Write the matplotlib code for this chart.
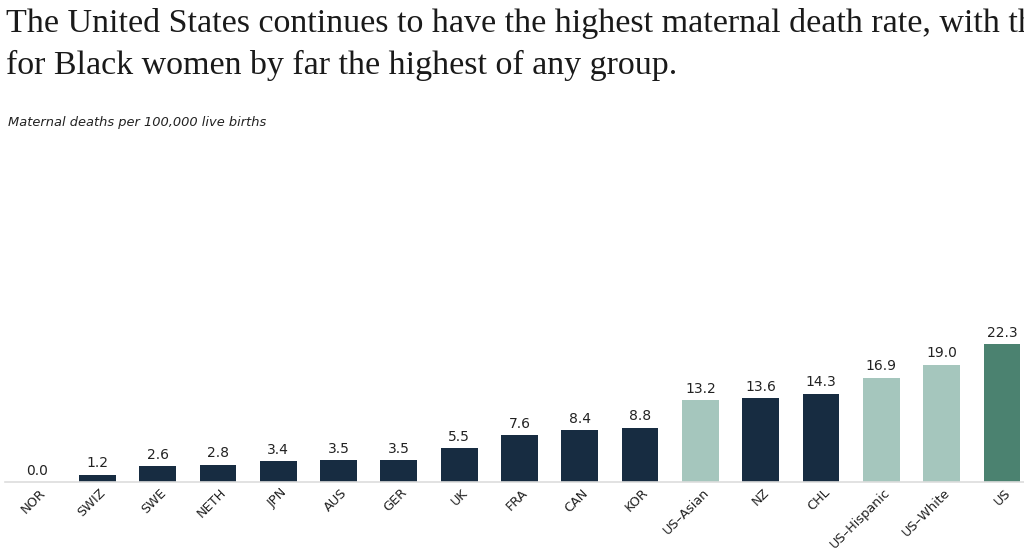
import numpy as np
import matplotlib.pyplot as plt
from matplotlib import transforms

# ============================================================================
# Data
# ============================================================================
labels = ["NOR", "SWIZ", "SWE", "NETH", "JPN", "AUS", "GER", "UK", "FRA",
          "CAN", "KOR", "US–Asian", "NZ", "CHL", "US–Hispanic", "US–White", "US"]
values = [0.0, 1.2, 2.6, 2.8, 3.4, 3.5, 3.5, 5.5, 7.6,
          8.4, 8.8, 13.2, 13.6, 14.3, 16.9, 19.0, 22.3]
groups = ["country"] * 11 + ["us_group", "country", "country",
                             "us_group", "us_group", "us_total"]

NAVY = "#172c41"
TEAL_LIGHT = "#a5c6bd"
TEAL_DARK = "#4b8270"
palette = {"country": NAVY, "us_group": TEAL_LIGHT, "us_total": TEAL_DARK}

# the reference is cropped on the right, so the first line runs off the edge
title = ("The United States continues to have the highest maternal death rate, with the\n"
         "for Black women by far the highest of any group.")
subtitle = "Maternal deaths per 100,000 live births"

# ============================================================================
# Figure
# ============================================================================
fig = plt.figure(figsize=(10.24, 5.52), dpi=100)
fig.patch.set_facecolor("white")
ax = fig.add_axes([5 / 1024, 70 / 552, 1 - 5 / 1024, 0.28])

x = np.arange(len(labels))
colors = [palette[g] for g in groups]
ax.bar(x, values, width=0.61, color=colors, zorder=2)

for xi, v in zip(x, values):
    ax.text(xi, v + 0.7, f"{v:.1f}", ha="center", va="bottom",
            fontsize=10, color="#222222")

ax.set_xlim(-0.53, len(labels) - 1 + 0.365)
ax.set_ylim(0, 25)

for s in ["top", "right", "left"]:
    ax.spines[s].set_visible(False)
ax.spines["bottom"].set_color("#dddddd")
ax.spines["bottom"].set_linewidth(1.2)
ax.set_yticks([])
ax.set_xticks(x)
ax.tick_params(axis="x", length=0, pad=3)
offset = transforms.ScaledTranslation(2 / 100, 0, fig.dpi_scale_trans)
ax.set_xticklabels(labels, rotation=45, ha="right", va="top",
                   rotation_mode="anchor", fontsize=9.3, color="#222222")
for lab in ax.get_xticklabels():
    lab.set_transform(lab.get_transform() + offset)

fig.text(6 / 1024, 1 - 8 / 552, title, ha="left", va="top",
         fontsize=24.5, family="Liberation Serif", color="#1a1a1a",
         linespacing=1.45)
fig.text(8 / 1024, 1 - 116 / 552, subtitle, ha="left", va="top",
         fontsize=9.4, style="italic", color="#222222")

fig.savefig("out.png", dpi=100)
